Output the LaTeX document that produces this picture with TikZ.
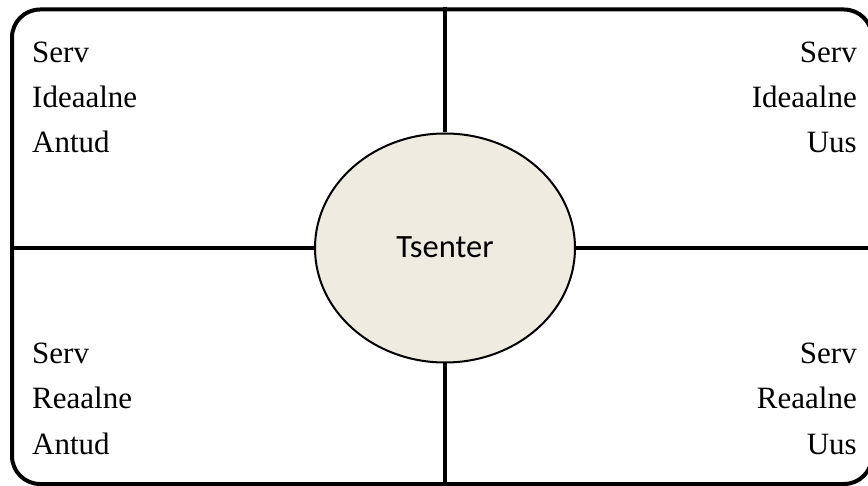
\documentclass[tikz,border=0pt]{standalone}
\usepackage{fontspec}
\setmainfont{Liberation Serif}
\newfontfamily\calibfont{Carlito}
\usetikzlibrary{shapes.geometric}
\definecolor{hubfill}{HTML}{EEECE1}
\tikzset{
  frame/.style={draw, line width=4pt, rounded corners=28pt, rectangle, inner sep=0pt},
  divider/.style={line width=4pt},
  hub/.style={ellipse, draw, line width=2pt, fill=hubfill, inner sep=0pt,
              minimum width=260pt, minimum height=229pt},
  lbl/.style={font=\fontsize{31}{36}\selectfont, inner sep=0pt},
  lblL/.style={lbl, anchor=base west},
  lblR/.style={lbl, anchor=base east}
}
\begin{document}
\begin{tikzpicture}[x=1pt, y=-1pt]
  \useasboundingbox (0,0) rectangle (868,486);
  \clip (0,0) rectangle (868,486);
  % outer rounded frame (right edge runs past the page)
  \node[frame, minimum width=860pt, minimum height=474.5pt] (fr) at (442,246.75) {};
  % central hub
  \node[hub] (c) at (445,248) {};
  \node[font=\calibfont\fontsize{32.5}{38}\selectfont, anchor=base, inner sep=0pt] (ct) at (445,258) {Tsenter};
  % quadrant dividers
  \draw[divider] (c.north) -- (c.north |- fr.north);
  \draw[divider] (c.south) -- (c.south |- fr.south);
  \draw[divider] (c.west) -- (c.west -| fr.west);
  \draw[divider] (c.east) -- (c.east -| fr.east);
  % upper left
  \node[lblL] (a1) at (32,63) {Serv};
  \node[lblL] (a2) at (32,108) {Ideaalne};
  \node[lblL] (a3) at (32,153) {Antud};
  % upper right
  \node[lblR] (b1) at (857,63) {Serv};
  \node[lblR] (b2) at (857,108) {Ideaalne};
  \node[lblR] (b3) at (857,153) {Uus};
  % lower left
  \node[lblL] (d1) at (32,364) {Serv};
  \node[lblL] (d2) at (32,409) {Reaalne};
  \node[lblL] (d3) at (32,454) {Antud};
  % lower right
  \node[lblR] (e1) at (857,364) {Serv};
  \node[lblR] (e2) at (857,409) {Reaalne};
  \node[lblR] (e3) at (857,454) {Uus};
\end{tikzpicture}
\end{document}
